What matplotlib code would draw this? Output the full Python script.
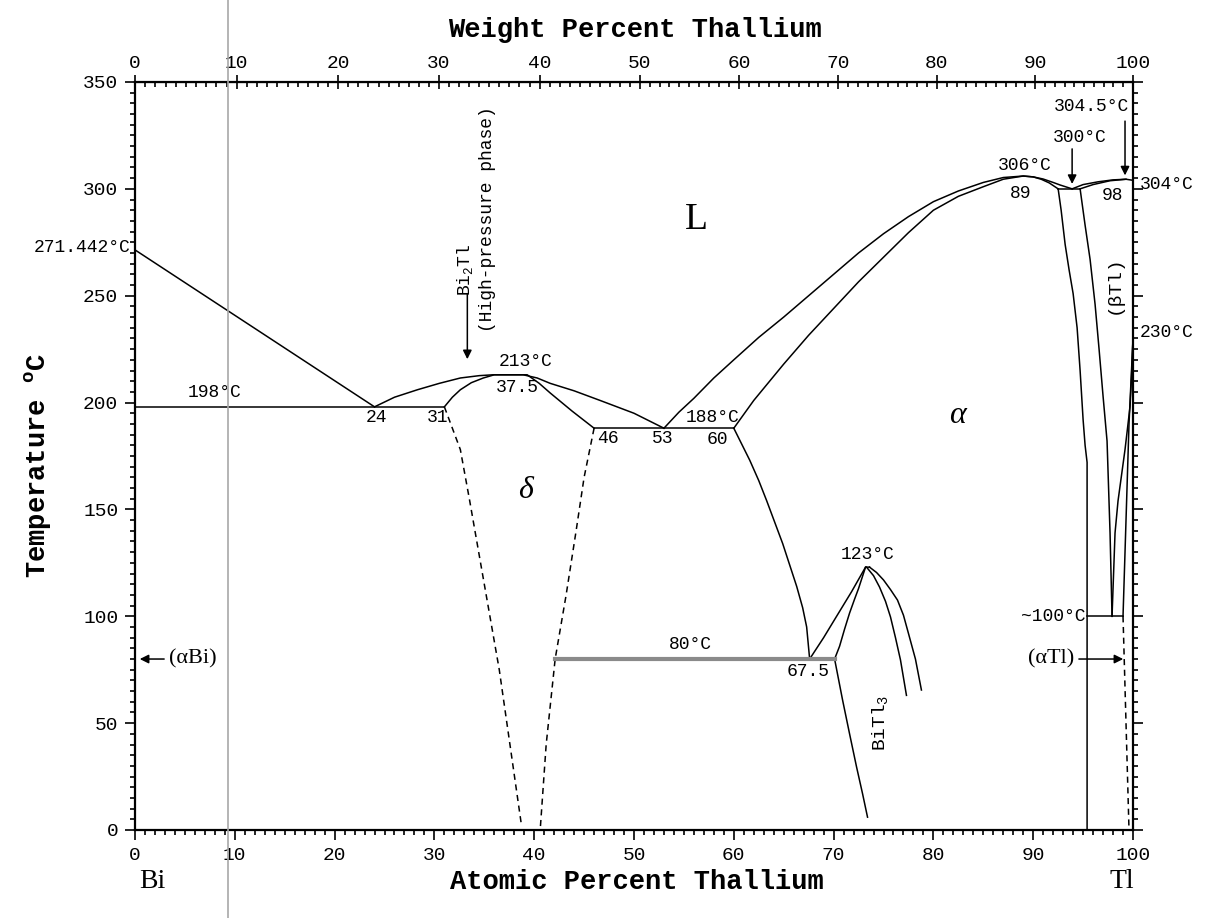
from matplotlib import pyplot as plt
from matplotlib.ticker import MultipleLocator, FixedLocator
from matplotlib.lines import Line2D
import numpy as np

# %% Phase boundaries (at.% Tl , temperature C)

liqBi_x = [0, 24]
liqBi_y = [271.442, 198]

eut198_x = [0, 31]
eut198_y = [198, 198]

domeOut_x = [24, 26, 28.3, 30.5, 32.6, 34.5, 35.9, 37.5, 38.9, 40.3, 41.6, 44, 46.6, 50, 53]
domeOut_y = [198, 202.5, 206, 209, 211.5, 212.6, 213, 213, 213, 211.5, 209, 205.5, 201, 195, 188]
domeIn_x = [31, 31.8, 32.6, 33.7, 34.9, 36, 37.5, 39.3, 40.5, 41.6, 43.8, 46]
domeIn_y = [198, 202.5, 206, 209.3, 211.5, 213, 213, 213, 209, 204.5, 196, 188]

deltaL_x = [31, 32.6, 33.5, 35, 36.5, 38.7]
deltaL_y = [198, 178, 155, 115, 75, 3]
deltaR_x = [46, 45, 44.2, 43.2, 42.1, 41.2, 40.6]
deltaR_y = [188, 165, 140, 110, 80, 40, 0]

eut188_x = [46, 60]
eut188_y = [188, 188]

liqA_x = [53, 54.5, 56, 58, 60, 62.5, 65, 67.5, 70, 72.5, 75, 77.5, 80, 82.5, 85, 87, 89,
          90, 91, 92, 92.7, 93.9]
liqA_y = [188, 195.5, 202, 211.5, 220, 230.5, 240, 250, 260, 270, 279, 287, 294, 299, 303,
          305.3, 306, 305.6, 304.6, 303, 301.8, 300]
solA_x = [60, 61, 62, 63.5, 65, 67.5, 70, 72.5, 75, 77.5, 80, 82.5, 85, 87, 89, 90, 90.8,
          91.6, 92.5]
solA_y = [188, 194.5, 201, 209.5, 218, 231.5, 244, 256.5, 268, 279.5, 290, 296.5, 301,
          304.5, 306, 305.6, 304.5, 302.8, 300]

eut300_x = [92.5, 94.7]
eut300_y = [300, 300]

liqTl_x = [93.9, 95, 96.5, 98, 99.3, 100]
liqTl_y = [300, 302, 303.3, 304.2, 304.5, 304]
solTl_x = [94.7, 96, 97.7, 99.3]
solTl_y = [300, 302, 303.8, 304.5]

solvA_x = [92.5, 92.8, 93.2, 93.6, 94.0, 94.4, 94.7, 95.0, 95.2, 95.4, 95.4]
solvA_y = [300, 290, 274, 262, 251, 235, 215, 192, 180, 172, 0]
betaL_x = [94.7, 95.2, 95.7, 96.2, 96.6, 97.0, 97.4, 97.7, 97.9]
betaL_y = [300, 283, 267, 246, 225, 203, 182, 139, 100]
betaT1_x = [100, 99.85, 99.7, 99.45, 99.2, 98.85, 98.5, 98.2, 97.9]
betaT1_y = [230, 212, 198, 188, 178, 166, 154, 139, 100]
betaT2_x = [100, 99.8, 99.6, 99.4, 99.2, 99.0]
betaT2_y = [230, 210, 190, 160, 130, 100]

eut100_x = [95.4, 99.0]
eut100_y = [100, 100]
aTl_x = [99.0, 99.6]
aTl_y = [100, 0]

solv60_x = [60, 60.8, 61.6, 62.5, 63.3, 64.1, 64.9, 65.6, 66.3, 66.9, 67.3, 67.6]
solv60_y = [188, 180.5, 173, 163.5, 154, 144, 134, 124, 114, 104, 95, 80]

eut80_x = [42.1, 70.1]
eut80_y = [80, 80]

bt3L_x = [67.6, 69, 70.3, 71.8, 73.2]
bt3L_y = [80, 90, 100, 111.5, 123]
bt3I_x = [70.1, 70.6, 71.1, 71.6, 72.1, 72.5, 73.2, 73.6]
bt3I_y = [80, 86, 94, 101.5, 108, 113, 123, 123]
bt3R1_x = [73.3, 74.0, 74.6, 75.2, 75.7, 76.2, 76.7, 77.3]
bt3R1_y = [123, 119, 113.7, 107, 99.7, 90, 79.6, 63]
bt3R2_x = [73.6, 74.3, 75, 75.7, 76.4, 77, 77.5, 78.2, 78.8]
bt3R2_y = [123, 120.5, 117, 112.5, 107.6, 100.5, 92, 80, 65.5]
bt3B_x = [70.1, 70.9, 71.6, 72.3, 72.9, 73.4]
bt3B_y = [80, 60.8, 45, 29.5, 17, 6]

wtTicks = list(range(0, 101, 10))
MBi, MTl = 208.98, 204.38

mono = 'Liberation Mono'
serif = 'Liberation Serif'

# %% Figure

fig = plt.figure(figsize=(12.16, 9.18), dpi=100)
ax = fig.add_axes([135/1216, 1-830/918, 998/1216, 748/918])
ax.set_xlim(0, 100)
ax.set_ylim(0, 350)

lw = 1.1
solid = [(liqBi_x, liqBi_y), (eut198_x, eut198_y), (domeOut_x, domeOut_y),
         (domeIn_x, domeIn_y), (eut188_x, eut188_y), (liqA_x, liqA_y),
         (solA_x, solA_y), (eut300_x, eut300_y), (liqTl_x, liqTl_y),
         (solTl_x, solTl_y), (solvA_x, solvA_y), (betaL_x, betaL_y),
         (betaT1_x, betaT1_y), (betaT2_x, betaT2_y), (eut100_x, eut100_y),
         (solv60_x, solv60_y), (bt3L_x, bt3L_y), (bt3I_x, bt3I_y),
         (bt3R1_x, bt3R1_y), (bt3R2_x, bt3R2_y), (bt3B_x, bt3B_y)]
for x, y in solid:
    ax.plot(x, y, color='k', lw=lw)

for x, y in [(deltaL_x, deltaL_y), (deltaR_x, deltaR_y), (aTl_x, aTl_y)]:
    ax.plot(x, y, color='k', lw=lw, ls=(0, (4, 3)))

ax.plot(eut80_x, eut80_y, color='#8a8a8a', lw=3)

# Ticks

ax.xaxis.set_major_locator(MultipleLocator(10))
ax.xaxis.set_minor_locator(MultipleLocator(1))
ax.yaxis.set_major_locator(MultipleLocator(50))
ax.yaxis.set_minor_locator(MultipleLocator(5))
ax.tick_params(which='both', direction='out', top=False, right=True, width=1.2,
               labelsize=14, pad=5)
ax.tick_params(which='major', length=7)
ax.tick_params(which='minor', length=3.5)
for lab in ax.get_xticklabels() + ax.get_yticklabels():
    lab.set_fontfamily(mono)
for s in ax.spines.values():
    s.set_linewidth(1.6)

def at2wt(a):
    a = np.asarray(a, float)
    return 100*a*MTl/(a*MTl+(100-a)*MBi)

def wt2at(w):
    w = np.asarray(w, float)
    return 100*(w/MTl)/(w/MTl+(100-w)/MBi)

top = ax.secondary_xaxis('top', functions=(at2wt, wt2at))
top.xaxis.set_major_locator(FixedLocator(wtTicks))
top.xaxis.set_minor_locator(FixedLocator(list(range(0, 101))))
top.tick_params(which='major', direction='inout', length=10, width=1.2,
                labelsize=14, pad=2)
top.tick_params(which='minor', direction='in', length=3.5, width=1.2)
for lab in top.get_xticklabels():
    lab.set_fontfamily(mono)

# Axis titles

fig.text(635/1216, 1-30/918, 'Weight Percent Thallium', family=mono,
         size=19.5, weight='bold', ha='center', va='center')
fig.text(637/1216, 1-882/918, 'Atomic Percent Thallium', family=mono,
         size=19.5, weight='bold', ha='center', va='center')
fig.text(38/1216, 1-465/918, 'Temperature $^{\\mathregular{o}}$C', family=mono,
         size=19.5, weight='bold', ha='center', va='center', rotation=90)
fig.text(152/1216, 1-882/918, 'Bi', family=serif, size=20, ha='center', va='center')
fig.text(1122/1216, 1-882/918, 'Tl', family=serif, size=20, ha='center', va='center')

fig.add_artist(Line2D([228/1216]*2, [0, 1], color='#a8a8a8', lw=1.2,
                      transform=fig.transFigure))

# Labels on the diagram

t = dict(family=mono, size=13, ha='center', va='center')
ax.text(-0.5, 272.4, '271.442°C', clip_on=False, **{**t, 'ha': 'right'})
ax.text(8, 204.5, '198°C', **t)
ax.text(24.2, 193, '24', **t)
ax.text(30.3, 193, '31', **t)
ax.text(39.1, 219, '213°C', **t)
ax.text(38.3, 207, '37.5', **t)
ax.text(47.4, 183.4, '46', **t)
ax.text(52.9, 183.4, '53', **t)
ax.text(57.9, 193, '188°C', **t)
ax.text(58.4, 182.5, '60', **t)
ax.text(89.2, 310.7, '306°C', **t)
ax.text(88.7, 298, '89', **t)
ax.text(94.7, 324, '300°C', **t)
ax.text(99.6, 338.5, '304.5°C', **{**t, 'ha': 'right'})
ax.text(97.9, 296.7, '98', **t)
ax.text(100.7, 302, '304°C', clip_on=False, **{**t, 'ha': 'left'})
ax.text(100.7, 232.6, '230°C', clip_on=False, **{**t, 'ha': 'left'})
ax.text(98.1, 255, '(βTl)', rotation=90, **{**t, 'size': 14})
ax.text(95.2, 100, '~100°C', **{**t, 'ha': 'right'})
ax.text(55.6, 86.6, '80°C', **t)
ax.text(67.4, 74, '67.5', **t)
ax.text(73.4, 128.7, '123°C', **t)
ax.text(74.6, 50, '$\\mathregular{BiTl_3}$', rotation=90, **{**t, 'size': 14})
ax.text(33.1, 262, '$\\mathregular{Bi_2Tl}$', rotation=90, **t)
ax.text(35.3, 286, '(High-pressure phase)', rotation=90, **t)

ax.text(56.3, 285.5, 'L', family=serif, size=27, ha='center', va='center')
ax.text(39.1, 159, 'δ', family=serif, size=23, style='italic', ha='center', va='center')
ax.text(82.4, 194, 'α', family=serif, size=23, style='italic', ha='center', va='center')

arrow = dict(arrowstyle='-|>', color='k', lw=1.1, mutation_scale=13)
ax.annotate('', xy=(33.3, 219), xytext=(33.3, 252), arrowprops=arrow)
ax.annotate('', xy=(93.9, 301), xytext=(93.9, 320), arrowprops=arrow)
ax.annotate('', xy=(99.2, 305), xytext=(99.2, 333), arrowprops=arrow)
ax.annotate('', xy=(0.2, 80), xytext=(3.2, 80), arrowprops=arrow)
ax.text(3.4, 80, '(αBi)', family=serif, size=16, ha='left', va='center')
ax.annotate('', xy=(99.3, 80), xytext=(94.3, 80), arrowprops=arrow)
ax.text(94.1, 80, '(αTl)', family=serif, size=16, ha='right', va='center')

fig.savefig('out.png', dpi=100, facecolor='white')
